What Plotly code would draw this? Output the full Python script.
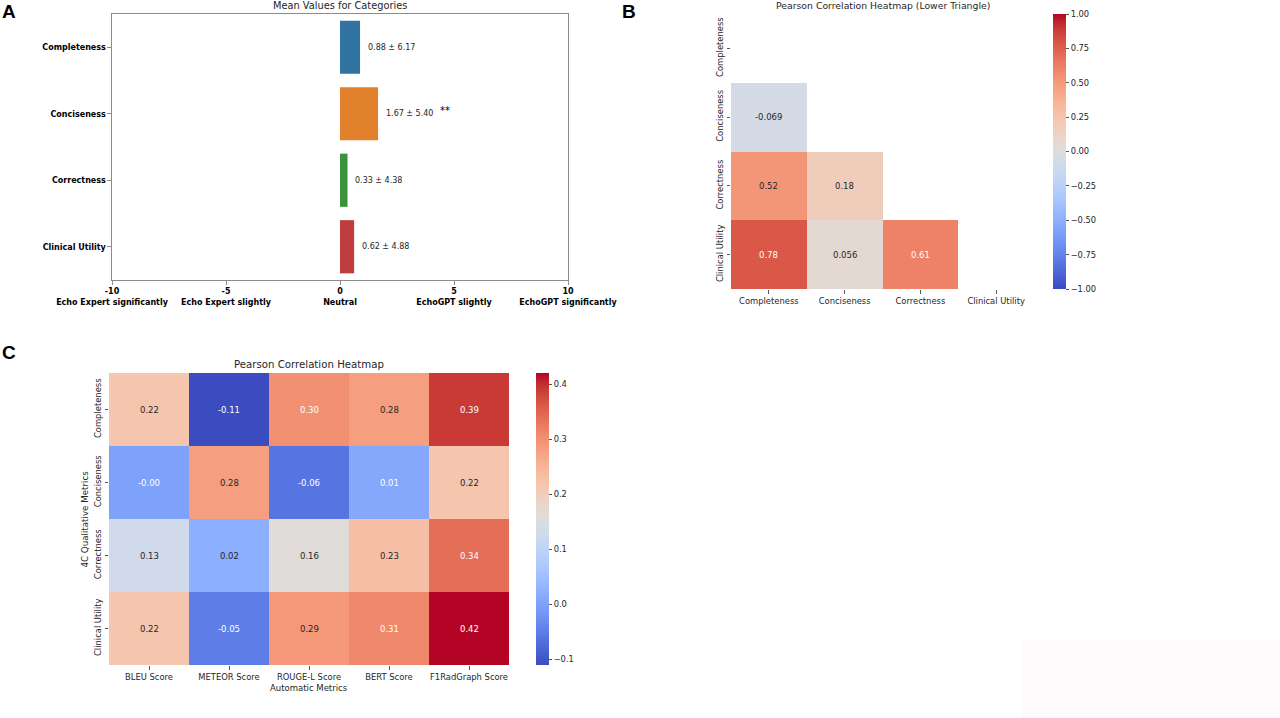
import math
import plotly.graph_objects as go

# ---------------- data ----------------
# Panel A: mean preference values
categories = ["Completeness", "Conciseness", "Correctness", "Clinical Utility"]
mean_values = [0.88, 1.67, 0.33, 0.62]
std_values = [6.17, 5.40, 4.38, 4.88]
significance = ["", "**", "", ""]
x_tick_vals = [-10, -5, 0, 5, 10]
x_tick_names = ["Echo Expert significantly", "Echo Expert slightly", "Neutral",
                "EchoGPT slightly", "EchoGPT significantly"]

# Panel B: lower-triangle correlation among 4C metrics (None = masked)
corr_labels = ["Completeness", "Conciseness", "Correctness", "Clinical Utility"]
corr_lower = [
    [None, None, None, None],
    [-0.069, None, None, None],
    [0.52, 0.18, None, None],
    [0.78, 0.056, 0.61, None],
]

# Panel C: correlation qualitative vs automatic metrics
auto_metrics = ["BLEU Score", "METEOR Score", "ROUGE-L Score", "BERT Score", "F1RadGraph Score"]
qual_metrics = ["Completeness", "Conciseness", "Correctness", "Clinical Utility"]
cross_corr = [
    [0.22, -0.11, 0.30, 0.28, 0.39],
    [-0.00, 0.28, -0.06, 0.01, 0.22],
    [0.13, 0.02, 0.16, 0.23, 0.34],
    [0.22, -0.05, 0.29, 0.31, 0.42],
]

# ---------------- styles ----------------
W, H = 1280, 718
FONT = "DejaVu Sans"
TXT = "#262626"
bar_colors = ["#3274a1", "#e1812c", "#3a923a", "#c03d3e"]

COOLWARM_RGB = [
    (59, 76, 192), (68, 90, 204), (77, 104, 215), (87, 117, 225), (98, 130, 234),
    (108, 142, 241), (119, 154, 247), (130, 165, 251), (141, 176, 254), (152, 185, 255),
    (163, 194, 255), (174, 201, 253), (184, 208, 249), (194, 213, 244), (204, 217, 238),
    (213, 219, 230), (221, 221, 221), (229, 216, 209), (236, 211, 197), (241, 204, 185),
    (245, 196, 173), (247, 187, 160), (247, 177, 148), (247, 166, 135), (244, 154, 123),
    (241, 141, 111), (236, 127, 99), (229, 112, 88), (222, 96, 77), (213, 80, 66),
    (203, 62, 56), (192, 40, 47), (180, 4, 38),
]
NSTOP = len(COOLWARM_RGB) - 1
COOLWARM = [[i / NSTOP, "rgb(%d,%d,%d)" % c] for i, c in enumerate(COOLWARM_RGB)]


def cmap(v, vmin, vmax):
    t = min(max((v - vmin) / (vmax - vmin), 0.0), 1.0) * NSTOP
    i = min(int(math.floor(t)), NSTOP - 1)
    f = t - i
    a, b = COOLWARM_RGB[i], COOLWARM_RGB[i + 1]
    return [a[k] + (b[k] - a[k]) * f for k in range(3)]


def text_color(rgb):
    lin = []
    for c in rgb:
        c = c / 255.0
        lin.append(c / 12.92 if c <= 0.03928 else ((c + 0.055) / 1.055) ** 2.4)
    lum = 0.2126 * lin[0] + 0.7152 * lin[1] + 0.0722 * lin[2]
    return TXT if lum > 0.408 else "white"


def dx(a, b):
    return [a / W, b / W]


def dy(top, bottom):
    return [1 - bottom / H, 1 - top / H]


fig = go.Figure()

# ---------------- Panel A ----------------
fig.add_trace(go.Bar(
    x=mean_values, y=categories, orientation="h", width=0.8,
    marker=dict(color=bar_colors, line=dict(width=0)),
    xaxis="x", yaxis="y", showlegend=False, hoverinfo="skip",
))

annotations = []
for cat, m, s, sig in zip(categories, mean_values, std_values, significance):
    annotations.append(dict(
        x=m + 0.25, y=cat, xref="x", yref="y", text=f"{m:.2f} ± {s:.2f}",
        showarrow=False, xanchor="left", yanchor="middle",
        font=dict(family=FONT, size=8, color=TXT),
    ))
    if sig:
        annotations.append(dict(
            x=m + 2.63, y=cat, xref="x", yref="y", text=sig, yshift=3,
            showarrow=False, xanchor="left", yanchor="middle",
            font=dict(family=FONT, size=10, color="#000000"),
        ))

annotations.append(dict(
    x=340 / W, y=1 - 6 / H, xref="paper", yref="paper", text="Mean Values for Categories",
    showarrow=False, xanchor="center", yanchor="middle",
    font=dict(family=FONT, size=9.8, color=TXT),
))

# ---------------- Panel B ----------------
nb = len(corr_labels)
CB_TICK = dict(family=FONT, size=8.3, color=TXT)
fig.add_trace(go.Heatmap(
    z=corr_lower, x=list(range(nb)), y=list(range(nb)),
    zmin=-1, zmax=1, colorscale=COOLWARM, hoverongaps=False,
    xaxis="x2", yaxis="y2", hoverinfo="skip",
    colorbar=dict(
        x=1053 / W, xanchor="left", xpad=0, y=1 - 151.5 / H, yanchor="middle", ypad=0,
        lenmode="pixels", len=275, thicknessmode="pixels", thickness=13,
        outlinewidth=0, ticks="outside", ticklen=3.5, tickcolor="#555555",
        tickvals=[-1, -0.75, -0.5, -0.25, 0, 0.25, 0.5, 0.75, 1], tickformat=".2f",
        tickfont=CB_TICK,
    ),
))
for i in range(nb):
    for j in range(nb):
        v = corr_lower[i][j]
        if v is None:
            continue
        annotations.append(dict(
            x=j, y=i, xref="x2", yref="y2", text=f"{v:.2g}", showarrow=False,
            font=dict(family=FONT, size=8.5, color=text_color(cmap(v, -1, 1))),
        ))
annotations.append(dict(
    x=882.5 / W, y=1 - 6 / H, xref="paper", yref="paper",
    text="Pearson Correlation Heatmap (Lower Triangle)",
    showarrow=False, xanchor="center", yanchor="middle",
    font=dict(family=FONT, size=9.3, color=TXT),
))

# ---------------- Panel C ----------------
flat = [v for row in cross_corr for v in row]
cmin, cmax = min(flat), max(flat)
fig.add_trace(go.Heatmap(
    z=cross_corr, x=list(range(len(auto_metrics))), y=list(range(len(qual_metrics))),
    zmin=cmin, zmax=cmax, colorscale=COOLWARM,
    xaxis="x3", yaxis="y3", hoverinfo="skip",
    colorbar=dict(
        x=535.5 / W, xanchor="left", xpad=0, y=1 - 519 / H, yanchor="middle", ypad=0,
        lenmode="pixels", len=292, thicknessmode="pixels", thickness=13,
        outlinewidth=0, ticks="outside", ticklen=3.5, tickcolor="#555555",
        tickvals=[-0.1, 0.0, 0.1, 0.2, 0.3, 0.4], tickformat=".1f",
        tickfont=CB_TICK,
    ),
))
for i in range(len(qual_metrics)):
    for j in range(len(auto_metrics)):
        v = cross_corr[i][j]
        annotations.append(dict(
            x=j, y=i, xref="x3", yref="y3", text=f"{v:.2f}", showarrow=False,
            font=dict(family=FONT, size=8.5, color=text_color(cmap(v, cmin, cmax))),
        ))
annotations += [
    dict(x=309 / W, y=1 - 364 / H, xref="paper", yref="paper", text="Pearson Correlation Heatmap",
         showarrow=False, xanchor="center", yanchor="middle",
         font=dict(family=FONT, size=10.2, color=TXT)),
    dict(x=309 / W, y=1 - 688 / H, xref="paper", yref="paper", text="Automatic Metrics",
         showarrow=False, xanchor="center", yanchor="middle",
         font=dict(family=FONT, size=8.5, color=TXT)),
    dict(x=84.5 / W, y=1 - 519 / H, xref="paper", yref="paper", text="4C Qualitative Metrics",
         showarrow=False, xanchor="center", yanchor="middle", textangle=-90,
         font=dict(family=FONT, size=8.7, color=TXT)),
]

# panel letters
for letter, px, py in [("A", 9, 12), ("B", 629, 12), ("C", 8.5, 352.5)]:
    annotations.append(dict(
        x=px / W, y=1 - py / H, xref="paper", yref="paper", text=letter, showarrow=False,
        xanchor="center", yanchor="middle",
        font=dict(family="Liberation Sans, Arial", size=19, color="#000000", weight="bold"),
    ))

heat_tick = dict(family=FONT, size=8.4, color=TXT)
common = dict(showgrid=False, zeroline=False, automargin=False)
fig.update_layout(
    width=W, height=H, margin=dict(l=0, r=0, t=0, b=0, autoexpand=False),
    paper_bgcolor="white", plot_bgcolor="white",
    font=dict(family=FONT, color=TXT),
    annotations=annotations,
    shapes=[dict(type="rect", xref="paper", yref="paper", x0=1022 / W, x1=1, y0=0, y1=1 - 640 / H,
                 fillcolor="#fdfbfb", line=dict(width=0), layer="below")],
    xaxis=dict(
        domain=dx(112, 568), range=[-10, 10], tickvals=x_tick_vals, tickangle=0,
        ticktext=[f"{v}<br>{n}" for v, n in zip(x_tick_vals, x_tick_names)],
        tickfont=dict(family=FONT, size=8, color="#000000", weight="bold"),
        showline=True, mirror=True, linecolor="#8c8c8c", linewidth=1.2,
        ticks="outside", ticklen=3.5, tickcolor="#8c8c8c", anchor="y", **common,
    ),
    yaxis=dict(
        domain=dy(14, 280), type="category", range=[3.5, -0.5],
        tickfont=dict(family=FONT, size=8, color="#000000", weight="bold"),
        showline=True, mirror=True, linecolor="#8c8c8c", linewidth=1.2,
        ticks="outside", ticklen=3.5, tickcolor="#8c8c8c", anchor="x", **common,
    ),
    xaxis2=dict(
        domain=dx(731, 1034), range=[-0.5, nb - 0.5], tickvals=list(range(nb)), ticktext=corr_labels,
        tickfont=heat_tick, tickangle=0, ticks="outside", ticklen=3.5, tickcolor="#555555",
        showline=False, anchor="y2", **common,
    ),
    yaxis2=dict(
        domain=dy(14, 289), range=[nb - 0.5, -0.5], tickvals=list(range(nb)), ticktext=corr_labels,
        tickfont=heat_tick, tickangle=-90, ticks="outside", ticklen=3.5, tickcolor="#555555",
        showline=False, anchor="x2", **common,
    ),
    xaxis3=dict(
        domain=dx(109, 509), range=[-0.5, len(auto_metrics) - 0.5],
        tickvals=list(range(len(auto_metrics))), ticktext=auto_metrics,
        tickfont=heat_tick, tickangle=0, ticks="outside", ticklen=3.5, tickcolor="#555555",
        showline=False, anchor="y3", **common,
    ),
    yaxis3=dict(
        domain=dy(373, 665), range=[len(qual_metrics) - 0.5, -0.5],
        tickvals=list(range(len(qual_metrics))), ticktext=qual_metrics,
        tickfont=heat_tick, tickangle=-90, ticks="outside", ticklen=3.5, tickcolor="#555555",
        showline=False, anchor="x3", **common,
    ),
)

fig.write_html("out.html", config={"displayModeBar": False},
               post_script="document.body.style.margin='0';")
